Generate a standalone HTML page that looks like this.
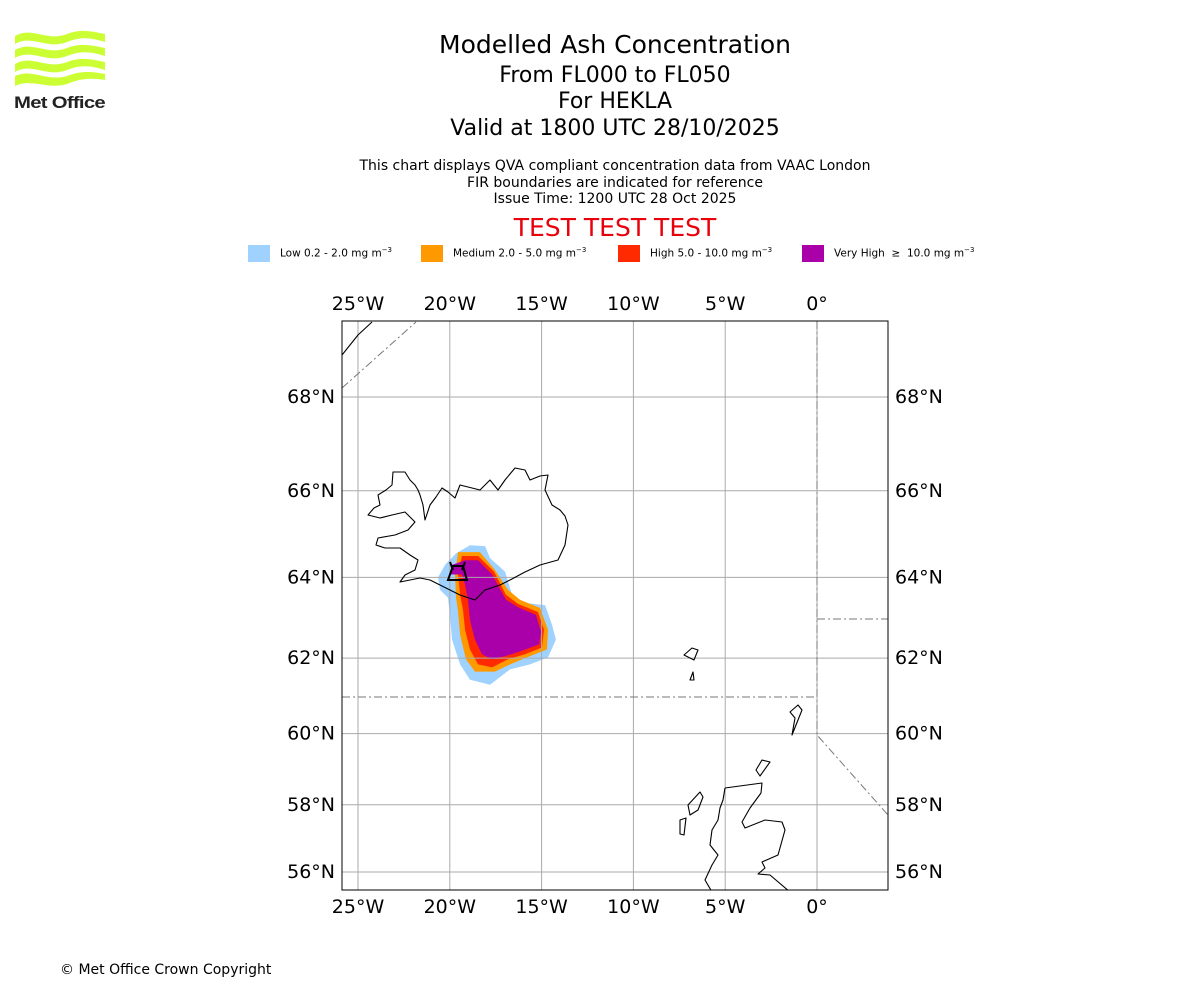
<!DOCTYPE html>
<html><head><meta charset="utf-8"><style>
body{margin:0;background:#fff;font-family:"DejaVu Sans","Liberation Sans",sans-serif;}
#wrap{position:relative;width:1200px;height:1000px;overflow:hidden;}
.t{position:absolute;left:0;width:1230px;text-align:center;color:#000;}
</style></head><body>
<div id="wrap">
<svg style="position:absolute;left:12px;top:28px" width="100" height="86" viewBox="0 0 100 86">
<g fill="#ccff33">
<path d="M3 8 C20 -2 35 14 55 6 C70 0 82 4 93 6 L93 14 C80 10 70 8 55 14 C35 22 20 6 3 16Z"/>
<path d="M3 22 C20 12 35 28 55 20 C70 14 82 18 93 20 L93 28 C80 24 70 22 55 28 C35 36 20 20 3 30Z"/>
<path d="M3 36 C20 26 35 42 55 34 C70 28 82 32 93 34 L93 42 C80 38 70 36 55 42 C35 50 20 34 3 44Z"/>
<path d="M3 48 C20 40 35 54 55 48 C70 42 82 44 93 46 L93 52 C80 50 70 50 55 56 C35 62 20 50 3 58Z"/>
</g>
<text x="2" y="80" font-size="17" font-weight="bold" fill="#222" letter-spacing="-0.6" textLength="91" lengthAdjust="spacingAndGlyphs" font-family="Liberation Sans">Met Office</text>
</svg>
<div class="t" style="top:30px;font-size:25px">Modelled Ash Concentration</div>
<div class="t" style="top:63px;font-size:22px">From FL000 to FL050</div>
<div class="t" style="top:89px;font-size:22px">For HEKLA</div>
<div class="t" style="top:116px;font-size:22px">Valid at 1800 UTC 28/10/2025</div>
<div class="t" style="top:158px;font-size:14px;line-height:16.5px">This chart displays QVA compliant concentration data from VAAC London<br>FIR boundaries are indicated for reference<br>Issue Time: 1200 UTC 28 Oct 2025</div>
<div class="t" style="top:213px;font-size:25px;color:#e8000b">TEST TEST TEST</div>
<div style="position:absolute;top:245px;left:0;font-size:10.5px">
<div><span style="position:absolute;left:248px;width:22px;height:17px;background:#a0d2ff"></span><span style="position:absolute;left:280px;top:1px;white-space:nowrap">Low 0.2 - 2.0 mg m<sup style="font-size:7px">−3</sup></span></div>
<div><span style="position:absolute;left:421px;width:22px;height:17px;background:#ff9900"></span><span style="position:absolute;left:453px;top:1px;white-space:nowrap">Medium 2.0 - 5.0 mg m<sup style="font-size:7px">−3</sup></span></div>
<div><span style="position:absolute;left:618px;width:22px;height:17px;background:#ff2a00"></span><span style="position:absolute;left:650px;top:1px;white-space:nowrap">High 5.0 - 10.0 mg m<sup style="font-size:7px">−3</sup></span></div>
<div><span style="position:absolute;left:802px;width:22px;height:17px;background:#aa00aa"></span><span style="position:absolute;left:834px;top:1px;white-space:nowrap">Very High &nbsp;≥&nbsp; 10.0 mg m<sup style="font-size:7px">−3</sup></span></div>
</div>
<svg id="map" style="position:absolute;left:0;top:0;font-family:'DejaVu Sans',sans-serif" width="1200" height="1000"></svg>
<div style="position:absolute;left:60px;top:962px;font-size:14px">© Met Office Crown Copyright</div>
</div>
<script>
const lonTicks=[-25,-20,-15,-10,-5,0];
const lonLabels=["25°W","20°W","15°W","10°W","5°W","0°"];
const latTicks=[56,58,60,62,64,66,68];
const latLabels=["56°N","58°N","60°N","62°N","64°N","66°N","68°N"];
const lowBand=[[-18.9,64.76],[-18.08,64.74],[-17.81,64.46],[-16.99,64.14],[-16.61,63.58],[-15.9,63.38],[-14.81,63.33],[-14.43,62.84],[-14.22,62.47],[-14.65,62.02],[-15.63,61.84],[-16.72,61.71],[-17.81,61.31],[-18.9,61.44],[-19.44,61.84],[-19.88,62.47],[-19.99,63.09],[-20.1,63.51],[-20.53,63.7],[-20.64,64.0],[-20.26,64.3],[-19.66,64.57]];
const mediumBand=[[-19.55,64.6],[-18.36,64.6],[-17.54,64.18],[-16.83,63.7],[-16.18,63.46],[-15.09,63.26],[-14.65,62.72],[-14.71,62.22],[-15.63,62.05],[-16.72,61.84],[-17.54,61.65],[-18.63,61.65],[-19.12,61.97],[-19.44,62.59],[-19.55,63.16],[-19.66,63.51],[-19.72,64.07]];
const highBand=[[-19.34,64.51],[-18.46,64.51],[-17.59,64.14],[-16.94,63.58],[-16.29,63.36],[-15.2,63.16],[-14.87,62.72],[-14.98,62.27],[-15.9,62.1],[-16.83,61.97],[-17.7,61.76],[-18.46,61.84],[-18.9,62.22],[-19.17,62.72],[-19.28,63.21],[-19.44,63.58],[-19.55,64.07]];
const veryHighBand=[[-19.17,64.41],[-18.46,64.41],[-17.7,64.07],[-16.94,63.46],[-16.29,63.28],[-15.31,63.09],[-15.03,62.67],[-15.14,62.35],[-16.18,62.17],[-16.99,62.05],[-17.7,61.97],[-18.25,62.1],[-18.63,62.47],[-18.9,62.96],[-19.01,63.46],[-19.17,63.83],[-19.34,64.07],[-19.99,64.07],[-19.88,64.3]];
const bands=[lowBand,mediumBand,highBand,veryHighBand];
const bandColors=["#a0d2ff","#ff9900","#ff2a00","#aa00aa"];
const bandNames=["plume-low","plume-medium","plume-high","plume-very-high"];
const L=342,R=888,T=321,B=890;
function merc(l){return Math.log(Math.tan(Math.PI/4+l*Math.PI/360));}
function xOf(lon){return 358+(lon+25)*18.36;}
function yOf(lat){return 872-(merc(lat)-merc(56))*1048.8;}
const svg=document.getElementById('map');const NS='http://www.w3.org/2000/svg';
function mk(tag,attrs,parent){const e=document.createElementNS(NS,tag);for(const k in attrs)e.setAttribute(k,attrs[k]);(parent||svg).appendChild(e);return e;}
const clip=mk('clipPath',{id:'c'});mk('rect',{x:L,y:T,width:R-L,height:B-T},clip);
const g=mk('g',{'clip-path':'url(#c)'});
bands.forEach((b,i)=>{const p=mk('polygon',{points:b.map(q=>xOf(q[0])+','+yOf(q[1])).join(' '),fill:bandColors[i]},g);

});
lonTicks.forEach((lon,i)=>{const x=xOf(lon);
const l=mk('line',{x1:x,x2:x,y1:T,y2:B,stroke:'#aaa','stroke-width':1},g);


[[T-11],[B+23]].forEach(v=>{const t=mk('text',{x:x,y:v[0],'font-size':19,'text-anchor':'middle'});t.textContent=lonLabels[i];

});});
latTicks.forEach((lat,i)=>{const y=yOf(lat);
const l=mk('line',{x1:L,x2:R,y1:y,y2:y,stroke:'#aaa','stroke-width':1},g);


const t1=mk('text',{x:L-7,y:y+6,'font-size':19,'text-anchor':'end'});t1.textContent=latLabels[i];


const t2=mk('text',{x:R+7,y:y+6,'font-size':19});t2.textContent=latLabels[i];

});
const fir=mk('g',{stroke:'#777',fill:'none','stroke-width':1,'stroke-dasharray':'8,3,2,3'},g);


mk('path',{d:'M342 388 L416 322 M342 697 L816 697 M817 321 L817 735 L888 815 M817 619 L888 619'},fir);
const coast=mk('g',{stroke:'#000',fill:'none','stroke-width':1.1,'stroke-linejoin':'round'},g);


mk('path',{d:'M342 355 L350 345 L358 335 L372 322 M368 515 L374 508 L380 505 L378 495 L386 490 L392 485 L393 472 L405 472 L410 480 L415 485 L418 490 L420 495 L423 505 L425 520 L430 505 L436 497 L442 488 L448 492 L455 498 L460 485 L468 487 L480 490 L485 485 L490 480 L498 490 L505 480 L515 468 L525 470 L530 480 L540 476 L548 475 L545 490 L552 505 L560 510 L565 516 L568 525 L565 545 L558 560 L540 565 L525 572 L510 580 L500 585 L485 590 L475 600 L460 595 L450 590 L440 585 L430 580 L420 578 L400 582 L405 575 L415 570 L418 560 L410 555 L400 548 L385 548 L376 545 L378 538 L395 535 L408 530 L415 522 L405 512 L392 515 L380 518 Z M684 655 L692 648 L698 650 L694 660 L688 657 Z M690 680 L693 672 L694 680 Z M792 735 L795 718 L790 712 L798 705 L802 710 L796 725 Z M725 788 L762 783 L761 793 L750 808 L742 822 L745 828 L765 820 L782 822 L785 830 L778 855 L762 862 L765 868 L758 874 L770 875 L790 892 M725 788 L723 800 L720 808 L718 820 L712 830 L710 845 L718 855 L712 865 L705 880 L712 892 M688 805 L700 792 L703 797 L698 810 L690 815 Z M756 770 L762 760 L770 762 L760 776 Z M680 820 L686 818 L684 835 L680 834 Z'},coast);
const v=mk('path',{d:'M448 580 L453 566 L463 566 L467 580 Z M450 562 L453 570 M465 562 L462 570',stroke:'#000','stroke-width':2,fill:'none'},g);


const fr=mk('rect',{x:L,y:T,width:R-L,height:B-T,fill:'none',stroke:'#000','stroke-width':1});


</script>
</body></html>
